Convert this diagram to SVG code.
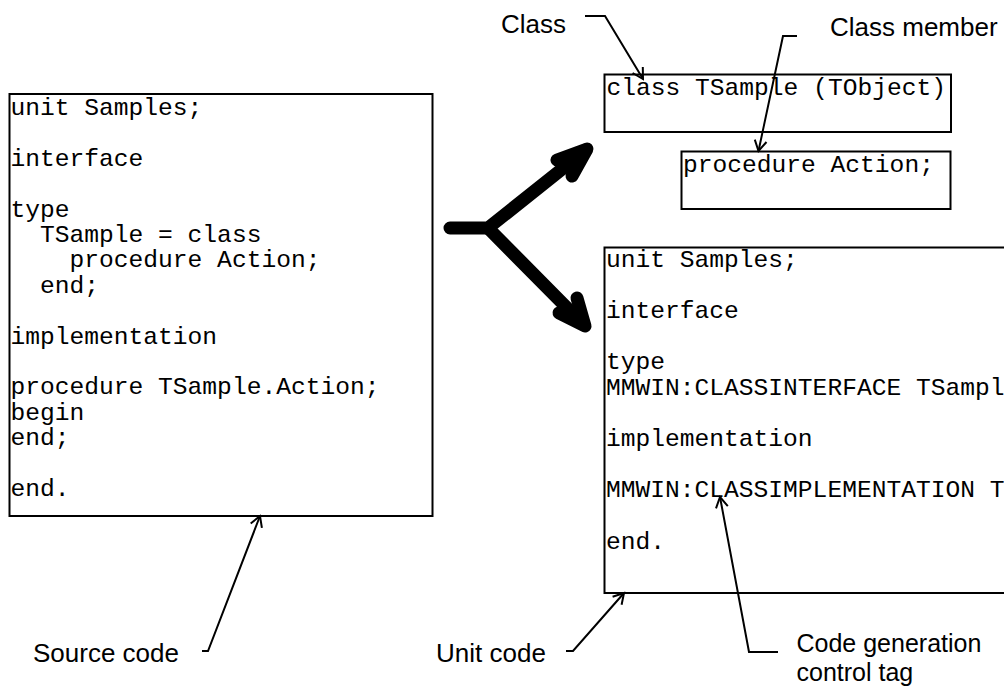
<svg xmlns="http://www.w3.org/2000/svg" width="1004" height="686" viewBox="0 0 1004 686">
<style>
.box{fill:#fff;stroke:#000;stroke-width:2}
.code{font-family:"Liberation Mono","Courier New",monospace;font-size:24.6px;fill:#000}
.lbl{font-family:"Liberation Sans",Arial,sans-serif;font-size:26px;fill:#000}
.lbl2{font-family:"Liberation Sans",Arial,sans-serif;font-size:25px;fill:#000}
.thin{fill:none;stroke:#000;stroke-width:2;stroke-linejoin:miter}
.thick{fill:none;stroke:#000;stroke-width:13;stroke-linecap:round;stroke-linejoin:round}
</style>
<rect width="1004" height="686" fill="#fff"/>
<g id="source-code">
<rect class="box" x="9.5" y="94" width="423" height="422"/>
<text class="code" x="10.5" y="115">unit Samples;</text>
<text class="code" x="10.5" y="165.8">interface</text>
<text class="code" x="10.5" y="216.6">type</text>
<text class="code" x="10.5" y="242" xml:space="preserve">  TSample = class</text>
<text class="code" x="10.5" y="267.4" xml:space="preserve">    procedure Action;</text>
<text class="code" x="10.5" y="292.8" xml:space="preserve">  end;</text>
<text class="code" x="10.5" y="343.6">implementation</text>
<text class="code" x="10.5" y="394.4">procedure TSample.Action;</text>
<text class="code" x="10.5" y="419.8">begin</text>
<text class="code" x="10.5" y="445.2">end;</text>
<text class="code" x="10.5" y="496">end.</text>
</g>
<g id="class-box">
<rect class="box" x="604.5" y="74.5" width="346.5" height="57.5"/>
<text class="code" x="606.5" y="95">class TSample (TObject)</text>
</g>
<g id="member-box">
<rect class="box" x="681.5" y="151.5" width="269" height="57.5"/>
<text class="code" x="683" y="172">procedure Action;</text>
</g>
<g id="unit-code">
<rect class="box" x="604.5" y="247.5" width="420" height="345.5"/>
<text class="code" x="606" y="267">unit Samples;</text>
<text class="code" x="606" y="318.2">interface</text>
<text class="code" x="606" y="369.4">type</text>
<text class="code" x="606" y="395">MMWIN:CLASSINTERFACE TSampl</text>
<text class="code" x="606" y="446.2">implementation</text>
<text class="code" x="606" y="497.4">MMWIN:CLASSIMPLEMENTATION T</text>
<text class="code" x="606" y="548.6">end.</text>
</g>
<g id="labels">
<text class="lbl" x="501" y="33">Class</text>
<text class="lbl" x="830" y="36">Class member</text>
<text class="lbl" x="33" y="661.5">Source code</text>
<text class="lbl" x="436" y="661.5">Unit code</text>
<text class="lbl2" x="796.5" y="651.5">Code generation</text>
<text class="lbl2" x="796.5" y="680.5">control tag</text>
</g>
<g id="connectors">
<path class="thick" d="M450,228 L488,228 L586,150"/>
<path class="thick" d="M488,228 L584,325"/>
<path class="thick" d="M557,160 L587,149 L572,176"/>
<path class="thick" d="M559,313 L585,326 L577,298"/>
<path class="thin" d="M585,16 L605,16 L643,79"/>
<path class="thin" d="M642.8,67 L643,79 L632.6,73"/>
<path class="thin" d="M797,36 L783,36 L758.5,151"/>
<path class="thin" d="M766.5,142 L758.5,151 L754.8,139.6"/>
<path class="thin" d="M202,651 L208,651 L260,516"/>
<path class="thin" d="M250.7,523.5 L260,516 L261.9,527.9"/>
<path class="thin" d="M566,651 L573,651 L624,593"/>
<path class="thin" d="M612.6,596.8 L624,593 L621.6,604.8"/>
<path class="thin" d="M778,652 L749,652 L720,497"/>
<path class="thin" d="M716,508.3 L720,497 L727.8,506.1"/>
</g>
</svg>
